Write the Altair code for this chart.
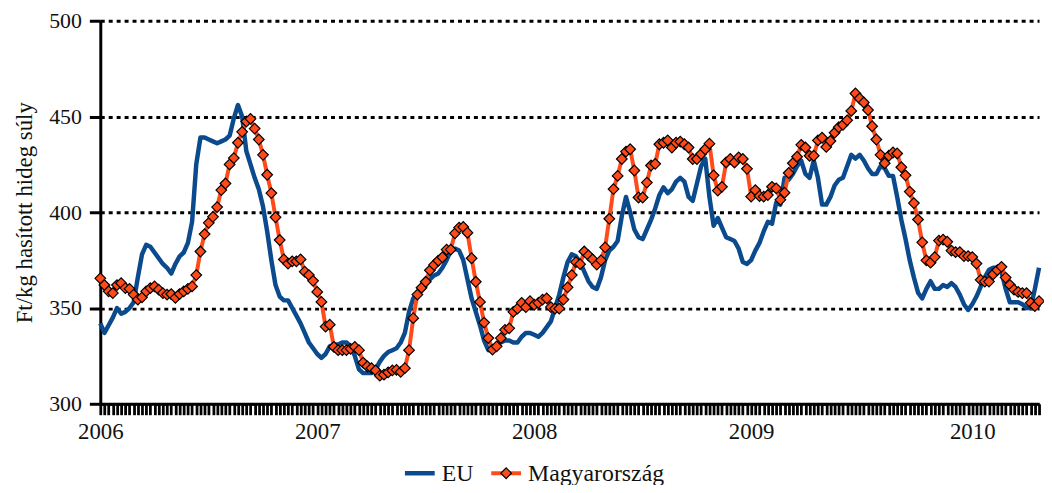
import altair as alt
import pandas as pd

years = ["2006", "2007", "2008", "2009", "2010"]
year_start_week = [0, 52, 104, 156, 209]

eu_2006 = [342, 337, 341, 345, 350, 347, 348, 350, 353, 366,
           378, 383, 382, 379, 376, 373, 371, 368, 373, 377,
           379, 384, 395, 425, 439, 439, 438, 437, 436, 437,
           438, 440, 449, 456, 450, 432, 425, 418, 412, 403,
           390, 375, 362, 356, 354, 354, 350, 346, 342, 337,
           332, 329]
eu_2007 = [326, 324, 326, 330, 331, 331, 332, 332, 330, 325,
           318, 316, 316, 316, 318, 322, 325, 327, 328, 329,
           332, 337, 348, 355, 358, 360, 362, 365, 367, 368,
           371, 375, 380, 381, 380, 375, 365, 355, 348, 341,
           333, 328, 329, 331, 332, 333, 333, 332, 332, 335,
           337, 337]
eu_2008 = [336, 335, 337, 340, 343, 350, 357, 366, 374, 378,
           377, 374, 369, 364, 361, 360, 366, 375, 380, 382,
           385, 398, 408, 400, 391, 387, 386, 391, 396, 402,
           409, 413, 410, 412, 416, 418, 416, 408, 406, 415,
           424, 428, 408, 393, 397, 392, 387, 386, 385, 381,
           374, 373]
eu_2009 = [375, 380, 384, 390, 395, 394, 405, 404, 418, 417,
           420, 424, 427, 420, 418, 427, 418, 404, 404, 408,
           414, 417, 418, 424, 430, 428, 430, 427, 423, 420,
           420, 424, 423, 419, 419, 408, 396, 386, 375, 366,
           358, 355, 360, 364, 360, 360, 362, 361, 363, 361,
           357, 352, 349]
eu_2010 = [352, 356, 361, 366, 370, 371, 371, 369, 360, 353,
           353, 353, 352, 350, 350, 360, 371]

hu_2006 = [365.5, 362, 358.7, 357.8, 362, 363, 360.4, 360, 357, 354.4,
           355.6, 358.7, 360.4, 361.3, 359.6, 357.8, 357, 357.3, 355.3, 357.3,
           358.7, 360, 361.3, 367.2, 379.5, 388.6, 394.5, 397.6, 402.7, 411.6,
           415, 425, 428.3, 436.3, 442, 447.4, 448.8, 443.7, 438, 430,
           419.6, 410, 397.4, 385.5, 375.4, 373.2, 374.4, 374.4, 375.4, 369,
           367.2, 364.2]
hu_2007 = [358.4, 353.2, 340.3, 341.3, 329.7, 328, 328, 328, 328.7, 329.7,
           328, 321.5, 319.5, 318.6, 317.4, 314.7, 315.2, 316.4, 317.4, 317.7,
           316.7, 318.6, 328, 344.7, 357, 360.6, 363.7, 369.7, 372.5, 374.7,
           376.5, 380.5, 380.5, 389, 392, 392.3, 389.3, 376, 363.7, 353.2,
           342.4, 334.3, 328.3, 330, 334.3, 338.6, 339.4, 348, 349.7, 352.7,
           350.5, 353.6]
hu_2008 = [351.7, 352.7, 354.4, 355, 350.5, 349.7, 349.7, 354.4, 360.8, 367.2,
           374, 372.9, 379.5, 377.5, 375.4, 372.7, 374.9, 381.7, 396.6, 412.1,
           419, 427.8, 431.7, 432.9, 421.8, 407.7, 407.7, 415.5, 424.4, 425.3,
           435.5, 436.3, 437.5, 433.8, 436.3, 436.9, 435.5, 433.8, 427.8, 427.8,
           430.4, 432.9, 435.8, 419.3, 411.3, 413.3, 426, 427.8, 426, 428.7,
           427.8, 422.7]
hu_2009 = [408.2, 411.6, 408.5, 408.2, 409, 413.3, 412.5, 406.5, 410.2, 420.5,
           425.6, 429, 435.2, 433.8, 429.5, 429.5, 437.5, 438.9, 434.1, 437.2,
           441.5, 444.4, 445.7, 448, 452.9, 462, 459.4, 457.3, 453.4, 444.9,
           438, 430, 425.6, 429.5, 431.2, 430.7, 423.5, 419.3, 410.8, 404.8,
           396.2, 384.3, 374.9, 373.7, 376.6, 385.2, 385.7, 384.6, 380, 379.2,
           379.2, 377.1, 377.1]
hu_2010 = [376.6, 373.2, 364.7, 363.8, 363.8, 367.6, 369.8, 371.5, 365.9, 362.1,
           359.6, 358.4, 357.8, 357.8, 352.7, 351, 353.6]

series_names = ["EU", "Magyarország"]
y_ticks = [300, 350, 400, 450, 500]

eu = eu_2006 + eu_2007 + eu_2008 + eu_2009 + eu_2010
hu = hu_2006 + hu_2007 + hu_2008 + hu_2009 + hu_2010
n = len(eu)
weeks = list(range(n))

df_eu = pd.DataFrame({"week": weeks, "value": eu, "series": series_names[0]})
df_hu = pd.DataFrame({"week": weeks, "value": hu, "series": series_names[1]})

SERIF = "'Liberation Serif', 'Times New Roman', 'DejaVu Serif', serif"
BLUE = "#0B4A8C"
ORANGE = "#FF4A1A"
FS = 23

label_expr = " : ".join(
    f"datum.value == {w} ? '{y}'" for w, y in zip(year_start_week, years)
) + " : ''"

x_enc = alt.X(
    "week:Q",
    scale=alt.Scale(domain=[0, n - 1], nice=False, zero=False),
    axis=alt.Axis(
        values=weeks, tickCount=n + 10, labelExpr=label_expr,
        labelOverlap=False, labelFlush=False,
        labelBound=False, title=None, grid=False, domainColor="black",
        domainWidth=3, tickColor="black", tickWidth=2.8, tickSize=11,
        labelFont=SERIF, labelFontSize=FS, labelColor="#111", labelPadding=6,
        labelAngle=0,
    ),
)
y_enc = alt.Y(
    "value:Q",
    scale=alt.Scale(domain=[300, 500], nice=False, zero=False),
    axis=alt.Axis(
        values=y_ticks, title="Ft/kg hasított hideg súly", grid=True,
        gridColor="black", gridDash=[4, 4], gridWidth=2.8, domainColor="black",
        domainWidth=3, tickColor="black", tickWidth=3, tickSize=11,
        labelFont=SERIF, labelFontSize=22, labelColor="#111", labelPadding=8,
        titleFont=SERIF, titleFontSize=FS, titleFontWeight="normal",
        titleColor="#111", titlePadding=12,
    ),
)

eu_line = alt.Chart(df_eu).mark_line(
    color=BLUE, strokeWidth=4.5, strokeJoin="round"
).encode(x=x_enc, y=y_enc)

hu_line = alt.Chart(df_hu).mark_line(
    color=ORANGE, strokeWidth=4, strokeJoin="round"
).encode(x="week:Q", y="value:Q")

hu_pts = alt.Chart(df_hu).mark_point(
    shape="diamond", filled=True, fill=ORANGE, stroke="black",
    strokeWidth=1.2, size=115, opacity=1
).encode(x="week:Q", y="value:Q")

# legend (manual, below the plot)
leg_eu = pd.DataFrame({"label": [series_names[0]]})
leg_hu = pd.DataFrame({"label": [series_names[1]]})
LEG_Y = 456

leg_eu_rule = alt.Chart(leg_eu).mark_rule(color=BLUE, strokeWidth=4.5).encode(
    x=alt.value(307), x2=alt.value(337), y=alt.value(LEG_Y))
leg_eu_text = alt.Chart(leg_eu).mark_text(
    align="left", baseline="middle", font=SERIF, fontSize=FS + 1, color="#111"
).encode(x=alt.value(344), y=alt.value(LEG_Y + 1), text="label:N")
leg_hu_rule = alt.Chart(leg_hu).mark_rule(color=ORANGE, strokeWidth=4).encode(
    x=alt.value(394), x2=alt.value(424), y=alt.value(LEG_Y))
leg_hu_pt = alt.Chart(leg_hu).mark_point(
    shape="diamond", filled=True, fill=ORANGE, stroke="black",
    strokeWidth=1.2, size=115, opacity=1
).encode(x=alt.value(409), y=alt.value(LEG_Y))
leg_hu_text = alt.Chart(leg_hu).mark_text(
    align="left", baseline="middle", font=SERIF, fontSize=FS + 1, color="#111"
).encode(x=alt.value(431), y=alt.value(LEG_Y + 1), text="label:N")

chart = alt.layer(
    eu_line, hu_line, hu_pts,
    leg_eu_rule, leg_eu_text, leg_hu_rule, leg_hu_pt, leg_hu_text,
).properties(
    width=946, height=386,
    autosize=alt.AutoSizeParams(type="none"),
    padding={"left": 93, "top": 11, "right": 5, "bottom": 80},
).configure(
    background="white", font=SERIF
).configure_view(stroke=None).configure_axis(labelFont=SERIF, titleFont=SERIF)

chart.save("out.html", embed_options={"renderer": "svg", "actions": False})
